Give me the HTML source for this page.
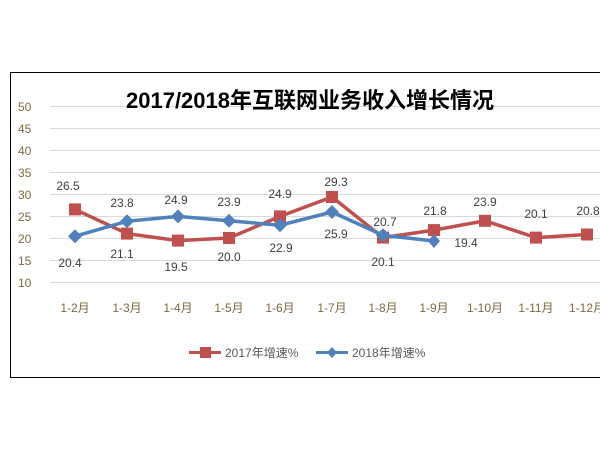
<!DOCTYPE html>
<html><head><meta charset="utf-8"><style>
body{margin:0;background:#fff}
svg{display:block}
text{font-family:"Liberation Sans","Noto Sans CJK SC",sans-serif}
</style></head><body>
<svg width="600" height="450" viewBox="0 0 600 450">
<rect x="10.5" y="72.5" width="600" height="305" fill="#fff" stroke="#000" stroke-width="1"/>
<g stroke="#d9d9d9" stroke-width="1">
<line x1="50" x2="600" y1="106.5" y2="106.5"/><line x1="50" x2="600" y1="128.5" y2="128.5"/>
<line x1="50" x2="600" y1="150.5" y2="150.5"/><line x1="50" x2="600" y1="172.5" y2="172.5"/>
<line x1="50" x2="600" y1="194.5" y2="194.5"/><line x1="50" x2="600" y1="216.5" y2="216.5"/>
<line x1="50" x2="600" y1="238.5" y2="238.5"/><line x1="50" x2="600" y1="260.5" y2="260.5"/>
<line x1="50" x2="600" y1="282.5" y2="282.5"/>
</g>
<g font-size="12" fill="#7f6a3f" text-anchor="start">
<text x="18" y="111">50</text><text x="18" y="133">45</text><text x="18" y="155">40</text>
<text x="18" y="177">35</text><text x="18" y="199">30</text><text x="18" y="221">25</text>
<text x="18" y="243">20</text><text x="18" y="265">15</text><text x="18" y="287">10</text>
</g>
<text x="310" y="108" font-size="22" font-weight="bold" text-anchor="middle" fill="#000">2017/2018年互联网业务收入增长情况</text>
<g font-size="12" fill="#7f6a3f" text-anchor="middle">
<text x="75" y="312">1-2月</text><text x="127" y="312">1-3月</text><text x="178" y="312">1-4月</text>
<text x="229" y="312">1-5月</text><text x="280" y="312">1-6月</text><text x="332" y="312">1-7月</text>
<text x="383" y="312">1-8月</text><text x="434" y="312">1-9月</text><text x="485" y="312">1-10月</text>
<text x="536" y="312">1-11月</text><text x="587" y="312">1-12月</text>
</g>
<polyline fill="none" stroke="#c0504d" stroke-width="3.5" points="75,209.4 127,233.6 178,240.6 229,238 280,216.4 332,197 383,237.6 434,230.1 485,220.8 536,237.6 587,234.5"/>
<g fill="#c0504d">
<rect x="69" y="203.4" width="12" height="12"/><rect x="121" y="227.6" width="12" height="12"/>
<rect x="172" y="234.6" width="12" height="12"/><rect x="223" y="232" width="12" height="12"/>
<rect x="274" y="210.4" width="12" height="12"/><rect x="326" y="191" width="12" height="12"/>
<rect x="377" y="231.6" width="12" height="12"/><rect x="428" y="224.1" width="12" height="12"/>
<rect x="479" y="214.8" width="12" height="12"/><rect x="530" y="231.6" width="12" height="12"/>
<rect x="581" y="228.5" width="12" height="12"/>
</g>
<polyline fill="none" stroke="#4f81bd" stroke-width="3.5" points="75,236.2 127,221.3 178,216.4 229,220.8 280,225.2 332,212 383,235.3 434,241"/>
<g fill="#4f81bd">
<path d="M75,229.2l7,7l-7,7l-7,-7z"/><path d="M127,214.3l7,7l-7,7l-7,-7z"/>
<path d="M178,209.4l7,7l-7,7l-7,-7z"/><path d="M229,213.8l7,7l-7,7l-7,-7z"/>
<path d="M280,218.2l7,7l-7,7l-7,-7z"/><path d="M332,205l7,7l-7,7l-7,-7z"/>
<path d="M383,228.3l7,7l-7,7l-7,-7z"/><path d="M434,234l6,7l-6,7l-6,-7z"/>
</g>
<g font-size="12" fill="#404040" text-anchor="middle">
<text x="68" y="190">26.5</text><text x="122" y="258">21.1</text><text x="176" y="271">19.5</text>
<text x="229" y="261">20.0</text><text x="280" y="198">24.9</text><text x="336" y="186">29.3</text>
<text x="383" y="266">20.1</text><text x="435" y="215">21.8</text><text x="485" y="206">23.9</text>
<text x="536" y="218">20.1</text><text x="588" y="215">20.8</text>
<text x="70" y="267">20.4</text><text x="122" y="207">23.8</text><text x="176" y="204">24.9</text>
<text x="229" y="206">23.9</text><text x="281" y="252">22.9</text><text x="336" y="238">25.9</text>
<text x="385" y="226">20.7</text><text x="466" y="247">19.4</text>
</g>
<line x1="189" x2="221" y1="352.5" y2="352.5" stroke="#c0504d" stroke-width="3"/>
<rect x="200" y="347" width="11" height="11" fill="#c0504d"/>
<text x="225" y="357" font-size="12" fill="#595959">2017年增速%</text>
<line x1="316" x2="348" y1="352.5" y2="352.5" stroke="#4f81bd" stroke-width="3"/>
<path d="M332,347l5,5.5l-5,5.5l-5,-5.5z" fill="#4f81bd"/>
<text x="352" y="357" font-size="12" fill="#595959">2018年增速%</text>
</svg>
</body></html>
